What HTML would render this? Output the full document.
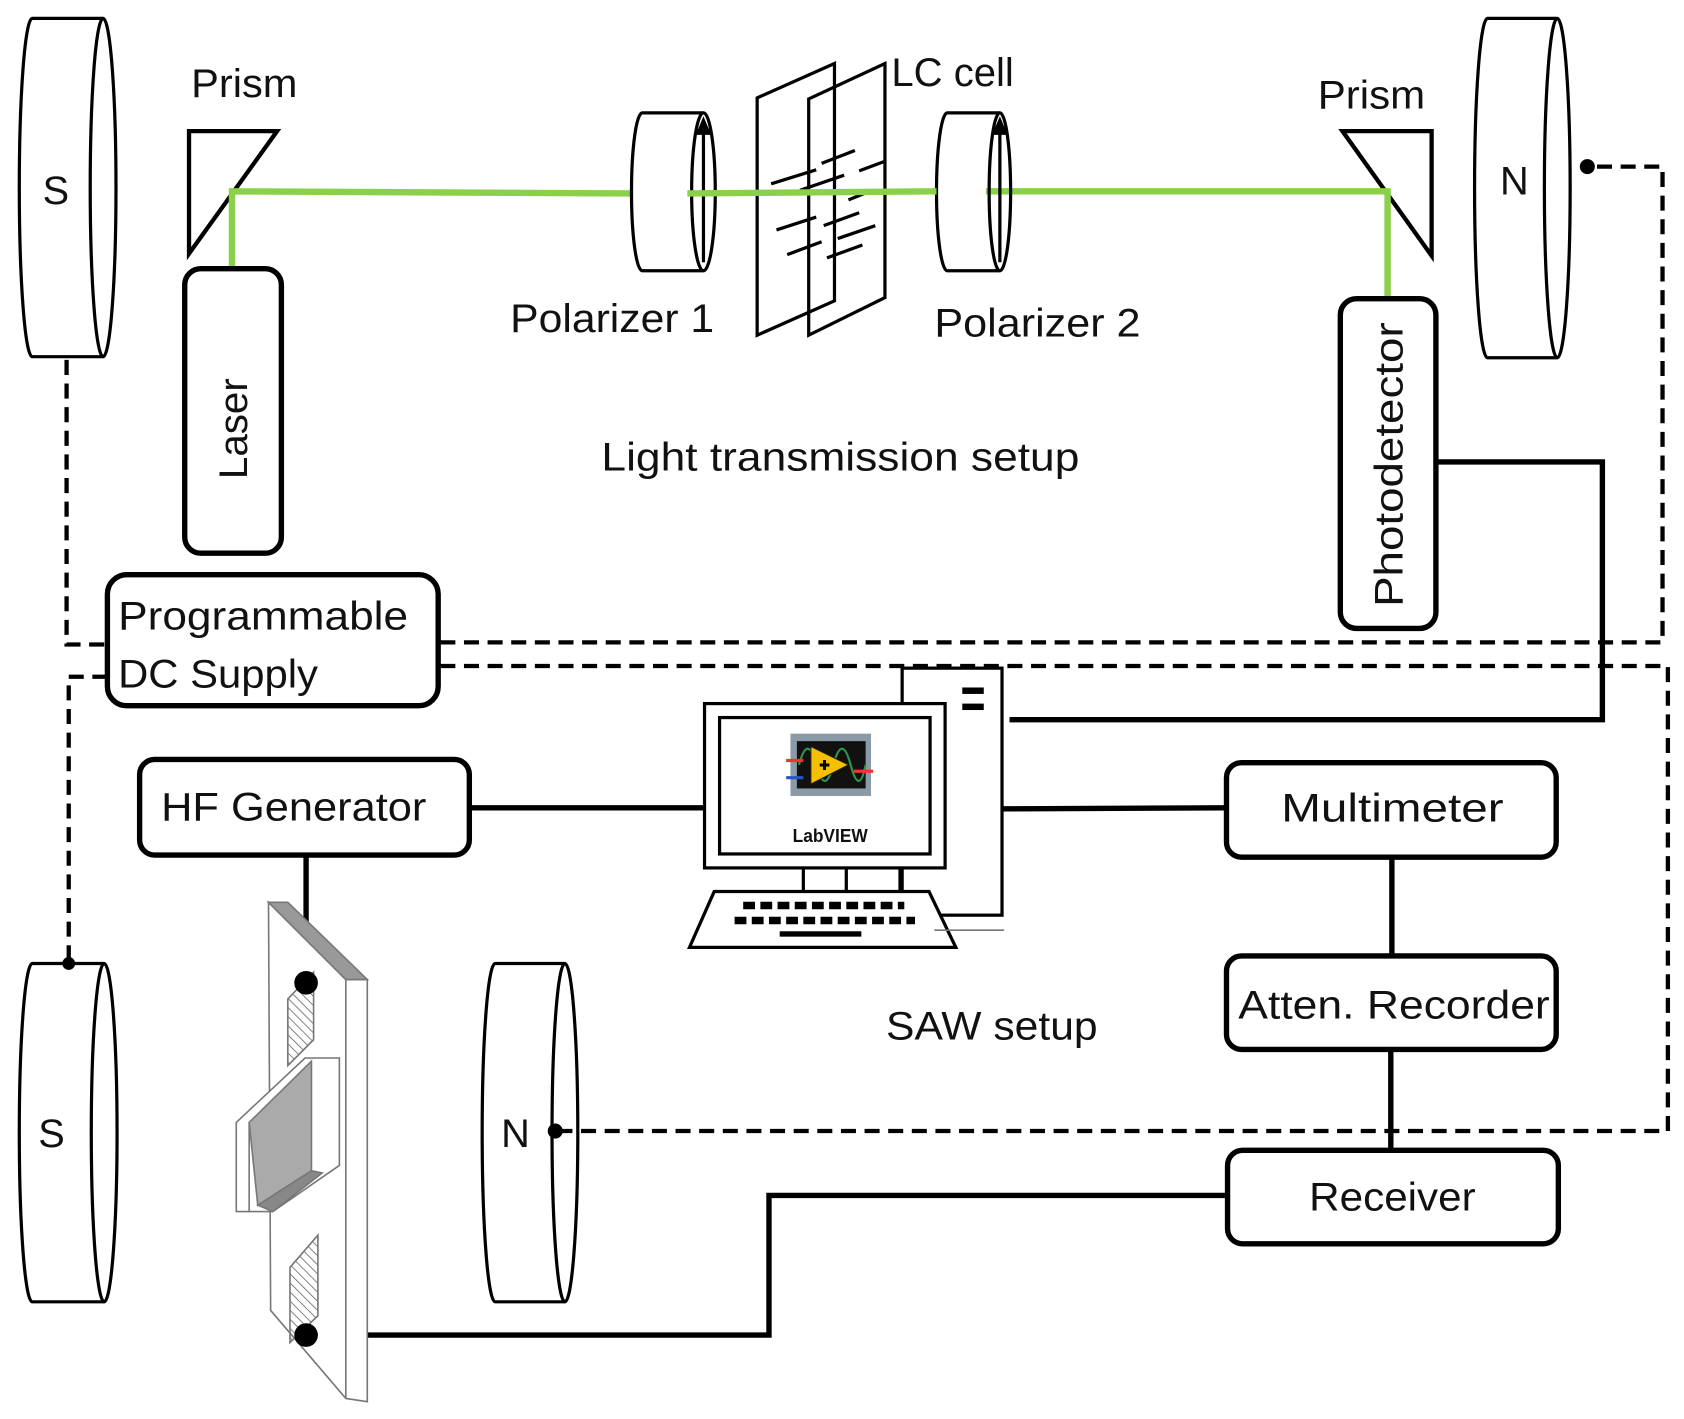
<!DOCTYPE html>
<html><head><meta charset="utf-8"><style>
html,body{margin:0;padding:0;background:#fff;}
svg{display:block;}
text{font-family:"Liberation Sans",sans-serif;fill:#111;}
</style></head><body>
<svg width="1684" height="1419" viewBox="0 0 1568 1321" xmlns="http://www.w3.org/2000/svg">
<defs>
<pattern id="hatch" width="6" height="6" patternUnits="userSpaceOnUse" patternTransform="rotate(-45)">
<line x1="0" y1="0" x2="0" y2="6" stroke="#666" stroke-width="1.5"/></pattern>
</defs>
<g fill="none" stroke="#000">
<g stroke-width="3" fill="#fff">
<path d="M96 17 H30 A12 157 0 0 0 30 332 H96"/><ellipse cx="96" cy="174.5" rx="12" ry="157.5"/>
<path d="M1450 17 H1385 A12 158 0 0 0 1385 333 H1450"/><ellipse cx="1450" cy="175" rx="12" ry="158"/>
<path d="M97 897 H30 A12 157 0 0 0 30 1212 H97"/><ellipse cx="97" cy="1054.5" rx="12" ry="157.5"/>
<path d="M526 897 H461 A12 157 0 0 0 461 1212 H526"/><ellipse cx="526" cy="1054.5" rx="12" ry="157.5"/>
</g>
<g stroke-width="4" stroke-dasharray="14 8">
<polyline points="62,335 62,600 100,600"/>
<polyline points="100,630 64,630 64,897"/>
<polyline points="410,598 1548,598 1548,155 1478,155"/>
<polyline points="410,620 1553,620 1553,1053 517,1053"/>
</g>
<polygon points="176,122 258,122 176,236" stroke-width="4"/>
<polygon points="1250,122 1333,122 1333,238" stroke-width="4"/>
<g stroke="#8bd04a" stroke-width="6">
<polyline points="216,255 216,178 588,180"/>
<polyline points="918,178 1292,178 1292,278"/>
</g>
<g stroke-width="3" fill="none">
<path d="M655 105 H598 A10 73.5 0 0 0 598 252 H655"/><ellipse cx="655" cy="178.5" rx="11" ry="73.5"/>
<line x1="655" y1="244" x2="655" y2="116"/><polygon points="655,112 650,124 660,124" fill="#000"/>
<path d="M931 105 H882 A10 73.5 0 0 0 882 252 H931"/><ellipse cx="931" cy="178.5" rx="10" ry="73.5"/>
<line x1="931" y1="244" x2="931" y2="116"/><polygon points="931,112 926,124 936,124" fill="#000"/>
</g>
<g stroke-width="3">
<polygon points="705,91 777,59 777,280 705,312" fill="none"/>
<polygon points="753,92 824,59 824,277 753,312" fill="none"/>
<line x1="718" y1="171" x2="760" y2="158"/><line x1="765" y1="152" x2="796" y2="140"/><line x1="800" y1="159" x2="824" y2="150"/>
<line x1="745" y1="177" x2="786" y2="163"/><line x1="790" y1="186" x2="810" y2="178"/>
<line x1="723" y1="214" x2="760" y2="202"/><line x1="767" y1="210" x2="800" y2="198"/><line x1="780" y1="222" x2="815" y2="210"/>
<line x1="733" y1="237" x2="765" y2="225"/><line x1="770" y1="240" x2="803" y2="228"/>
</g>
<line x1="640" y1="180" x2="872" y2="178" stroke="#8bd04a" stroke-width="6"/>
<g stroke-width="5" fill="#fff">
<rect x="172" y="250" width="90" height="265" rx="15"/>
<rect x="1248" y="278" width="89" height="307" rx="15"/>
<rect x="100" y="535" width="308" height="122" rx="18"/>
<rect x="130" y="707" width="307" height="89" rx="14"/>
<rect x="1142" y="710" width="307" height="88" rx="14"/>
<rect x="1142" y="890" width="307" height="87" rx="14"/>
<rect x="1143" y="1071" width="308" height="87" rx="14"/>
</g>
<g stroke-width="5">
<polyline points="1337,430 1492,430 1492,670 940,670"/>
<line x1="437" y1="752" x2="656" y2="752"/>
<line x1="933" y1="753" x2="1142" y2="752"/>
<line x1="1296" y1="798" x2="1296" y2="890"/>
<line x1="1295" y1="977" x2="1295" y2="1071"/>
<polyline points="1143,1113 716,1113 716,1243 285,1243"/>
<line x1="285" y1="796" x2="285" y2="915"/>
</g>
<g stroke-width="3" fill="#fff">
<rect x="840" y="622" width="93" height="230"/>
<rect x="656" y="655" width="224" height="153"/>
<rect x="670" y="668" width="196" height="127"/>
<line x1="748" y1="808" x2="748" y2="830"/><line x1="788" y1="808" x2="788" y2="830"/><line x1="838" y1="808" x2="838" y2="830"/>
<polygon points="665,830 865,830 890,882 642,882"/>
<line x1="870" y1="866" x2="935" y2="866" stroke="#777" stroke-width="1.5"/>
</g>
<rect x="896" y="640" width="20" height="6" fill="#000" stroke="none"/>
<rect x="896" y="655" width="20" height="6" fill="#000" stroke="none"/>
<line x1="692" y1="843" x2="842" y2="843" stroke="#000" stroke-width="7" stroke-dasharray="11 5"/>
<line x1="684" y1="857" x2="852" y2="857" stroke="#000" stroke-width="7" stroke-dasharray="11 5"/>
<rect x="726" y="867" width="76" height="5" fill="#000" stroke="none"/>
<rect x="736" y="683" width="75" height="58" fill="#8a9aa6" stroke="none"/>
<rect x="742" y="690" width="64" height="44" fill="#111" stroke="none"/>
<path d="M744 712 q8 -30 16 0 t16 0 t16 0 t14 0" stroke="#2a9a4a" stroke-width="2"/>
<polygon points="755,695 790,712 755,730" fill="#f5c000" stroke="#222" stroke-width="1"/>
<text x="763" y="718" font-size="16" font-weight="bold" style="fill:#111">+</text>
<line x1="732" y1="708" x2="748" y2="708" stroke="#e33" stroke-width="3"/>
<line x1="732" y1="724" x2="748" y2="724" stroke="#25c" stroke-width="3"/>
<line x1="795" y1="718" x2="813" y2="718" stroke="#e33" stroke-width="3"/>
<g stroke="#777" stroke-width="1.5" fill="#fff">
<polygon points="250,840 322,912 342,912 342,1305 322,1302 252,1220"/>
<polygon points="250,840 268,840 342,912 322,912" fill="#999"/>
<line x1="322" y1="912" x2="322" y2="1302"/>
<polygon points="268,930 292,905 292,968 268,992" fill="url(#hatch)"/>
<polygon points="270,1180 296,1150 296,1225 270,1250" fill="url(#hatch)"/>
<polygon points="220,1045 284,985 316,985 316,1085 254,1128 220,1128"/>
<polygon points="232,1045 290,988 290,1090 240,1122" fill="#aaa"/>
<polygon points="240,1122 290,1090 300,1092 254,1128" fill="#888"/>
<line x1="232" y1="1045" x2="232" y2="1128"/>
</g>
<g fill="#000" stroke="none">
<circle cx="285" cy="915" r="11"/><circle cx="285" cy="1243" r="11"/>
<circle cx="64" cy="897" r="6"/><circle cx="1478" cy="155" r="7"/><circle cx="517" cy="1053" r="7"/>
</g>
</g>
<g font-size="37">
<text x="52" y="190" text-anchor="middle">S</text>
<text x="48" y="1068" text-anchor="middle">S</text>
<text x="1410" y="181" text-anchor="middle">N</text>
<text x="480" y="1068" text-anchor="middle">N</text>
<text x="178" y="90" textLength="99" lengthAdjust="spacingAndGlyphs">Prism</text>
<text x="1227" y="101" textLength="100" lengthAdjust="spacingAndGlyphs">Prism</text>
<text x="830" y="80" textLength="114" lengthAdjust="spacingAndGlyphs">LC cell</text>
<text x="475" y="309" textLength="190" lengthAdjust="spacingAndGlyphs">Polarizer 1</text>
<text x="870" y="313" textLength="192" lengthAdjust="spacingAndGlyphs">Polarizer 2</text>
<text x="560" y="438" textLength="445" lengthAdjust="spacingAndGlyphs">Light transmission setup</text>
<text x="825" y="968" textLength="197" lengthAdjust="spacingAndGlyphs">SAW setup</text>
<text transform="translate(230,446) rotate(-90)" textLength="94" lengthAdjust="spacingAndGlyphs">Laser</text>
<text transform="translate(1306,565) rotate(-90)" textLength="265" lengthAdjust="spacingAndGlyphs">Photodetector</text>
<text x="110" y="586" textLength="270" lengthAdjust="spacingAndGlyphs">Programmable</text>
<text x="110" y="640" textLength="186" lengthAdjust="spacingAndGlyphs">DC Supply</text>
<text x="150" y="764" textLength="247" lengthAdjust="spacingAndGlyphs">HF Generator</text>
<text x="1193" y="765" textLength="207" lengthAdjust="spacingAndGlyphs">Multimeter</text>
<text x="1153" y="948" textLength="290" lengthAdjust="spacingAndGlyphs">Atten. Recorder</text>
<text x="1219" y="1127" textLength="155" lengthAdjust="spacingAndGlyphs">Receiver</text>
</g>
<text x="773" y="784" font-size="17" font-weight="bold" text-anchor="middle" textLength="70" lengthAdjust="spacingAndGlyphs">LabVIEW</text>
</svg>
</body></html>
